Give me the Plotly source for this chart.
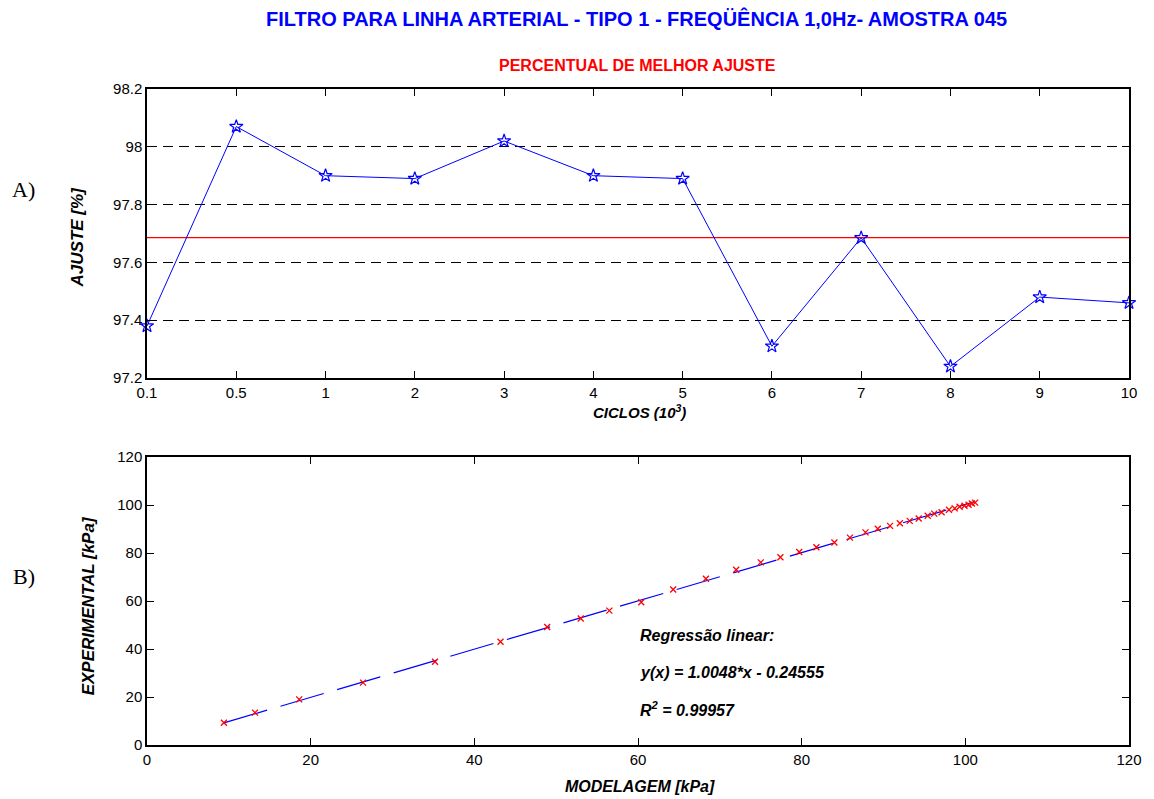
import numpy as np
import plotly.graph_objects as go
from plotly.subplots import make_subplots

# --- data -------------------------------------------------------------
ciclos = ["0.1", "0.5", "1", "2", "3", "4", "5", "6", "7", "8", "9", "10"]
ajuste = [97.38, 98.07, 97.90, 97.89, 98.02, 97.90, 97.89, 97.31, 97.685, 97.24, 97.48, 97.46]

modelagem = [9.4, 13.2, 18.6, 26.4, 35.2, 43.2, 48.9, 53.0, 56.5, 60.4, 64.3, 68.3,
             72.0, 75.0, 77.4, 79.7, 81.8, 84.0, 85.9, 87.8, 89.3, 90.8, 92.0, 93.2,
             94.3, 95.4, 96.2, 97.1, 98.0, 98.7, 99.3, 99.9, 100.4, 100.8, 101.2]
experimental = [9.3, 13.5, 19.0, 26.0, 34.7, 43.0, 49.2, 52.7, 56.0, 59.5, 64.8, 69.3,
                73.0, 76.1, 78.2, 80.4, 82.4, 84.4, 86.4, 88.6, 90.1, 91.3, 92.4, 93.4,
                94.4, 95.5, 96.4, 97.0, 98.0, 98.6, 99.3, 99.7, 100.1, 100.6, 101.0]

reg_slope = 1.0048
reg_intercept = -0.24555
r2 = 0.99957

# --- layout helpers (pixel -> paper) ---------------------------------
W, H = 1154, 799
L, R, T, B = 147, 1135, 89, 745


def px(x):
    return (x - L) / (R - L)


def py(y):
    return (B - y) / (B - T)


FONT = "Liberation Sans, Arial, Helvetica, sans-serif"
SERIF = "Liberation Serif, Times New Roman, serif"
BLUE = "#0000ff"
RED = "#ff0000"

fig = make_subplots(rows=2, cols=1)

idx = list(range(len(ciclos)))
media = float(np.mean(ajuste))

# mean line
fig.add_trace(go.Scatter(x=[idx[0], idx[-1]], y=[media, media], mode="lines",
                         line=dict(color=RED, width=1.2), showlegend=False,
                         hoverinfo="skip"), row=1, col=1)
# fit percentages per cycle
fig.add_trace(go.Scatter(x=idx, y=ajuste, mode="lines+markers",
                         line=dict(color=BLUE, width=1),
                         marker=dict(symbol="star-open", size=10, color=BLUE,
                                     line=dict(color=BLUE, width=1.2)),
                         showlegend=False, cliponaxis=False), row=1, col=1)

# regression line
xr = np.array([min(modelagem), max(modelagem)])
fig.add_trace(go.Scatter(x=xr, y=reg_slope * xr + reg_intercept, mode="lines",
                         line=dict(color=BLUE, width=1.2, dash="45px,14px"),
                         showlegend=False, hoverinfo="skip"), row=2, col=1)
# measured vs modelled
fig.add_trace(go.Scatter(x=modelagem, y=experimental, mode="markers",
                         marker=dict(symbol="x-thin-open", size=6, color=RED,
                                     line=dict(color=RED, width=1.3)),
                         showlegend=False), row=2, col=1)

axis_common = dict(showline=True, linecolor="black", linewidth=1.5, mirror="ticks",
                   ticks="inside", ticklen=7, tickcolor="black", tickwidth=1,
                   tickfont=dict(family=FONT, size=15, color="black"),
                   zeroline=False)

top_dom = [py(378), 1.0]
bot_dom = [0.0, py(457)]

fig.update_xaxes(row=1, col=1, domain=[0, 1], range=[0, 11], tickvals=idx,
                 ticktext=ciclos, showgrid=False, **axis_common)
fig.update_yaxes(row=1, col=1, domain=top_dom, range=[97.2, 98.2], dtick=0.2,
                 tickformat="~g", showgrid=True, gridcolor="black", gridwidth=1,
                 griddash="10px,6px", **axis_common)
fig.update_xaxes(row=2, col=1, domain=[0, 1], range=[0, 120], dtick=20,
                 showgrid=False, **axis_common)
fig.update_yaxes(row=2, col=1, domain=bot_dom, range=[0, 120], dtick=20,
                 showgrid=False, **axis_common)

annotations = [
    dict(text="<b>FILTRO PARA LINHA ARTERIAL - TIPO 1 - FREQÜÊNCIA 1,0Hz- AMOSTRA 045</b>",
         x=px(639), y=py(18), font=dict(family=FONT, size=20, color=BLUE)),
    dict(text="<b>PERCENTUAL DE MELHOR AJUSTE</b>",
         x=px(640), y=py(66), font=dict(family=FONT, size=16, color=RED)),
    dict(text="A)", x=px(23), y=py(189), font=dict(family=SERIF, size=22, color="black")),
    dict(text="B)", x=px(23), y=py(576), font=dict(family=SERIF, size=22, color="black")),
    # axis titles
    dict(text="<b><i>CICLOS (10<sup>3</sup>)</i></b>", x=px(643), y=py(411),
         font=dict(family=FONT, size=15, color="black")),
    dict(text="<b><i>AJUSTE [%]</i></b>", x=px(77), y=py(237), textangle=-90,
         font=dict(family=FONT, size=17, color="black")),
    dict(text="<b><i>MODELAGEM [kPa]</i></b>", x=px(643), y=py(786),
         font=dict(family=FONT, size=16, color="black")),
    dict(text="<b><i>EXPERIMENTAL [kPa]</i></b>", x=px(88), y=py(606), textangle=-90,
         font=dict(family=FONT, size=17, color="black")),
]
for a in annotations:
    a.update(xref="paper", yref="paper", showarrow=False, xanchor="center", yanchor="middle")

# regression summary inside lower panel
reg_lines = [
    ("<b><i>Regressão linear:</i></b>", 45.8),
    (f"<b><i>y(x) = {reg_slope:.4f}*x - {abs(reg_intercept):.5f}</i></b>", 30.4),
    (f"<b><i>R<sup>2</sup> = {r2:.5f}</i></b>", 15.0),
]
for txt, yv in reg_lines:
    annotations.append(dict(text=txt, x=60.0, y=yv, xref="x2", yref="y2",
                            xanchor="left", yanchor="middle", showarrow=False,
                            font=dict(family=FONT, size=16, color="black")))

fig.update_layout(width=W, height=H, margin=dict(l=L, r=W - R, t=T, b=H - B),
                  paper_bgcolor="white", plot_bgcolor="white",
                  annotations=annotations, showlegend=False)

fig.write_html("out.html")
